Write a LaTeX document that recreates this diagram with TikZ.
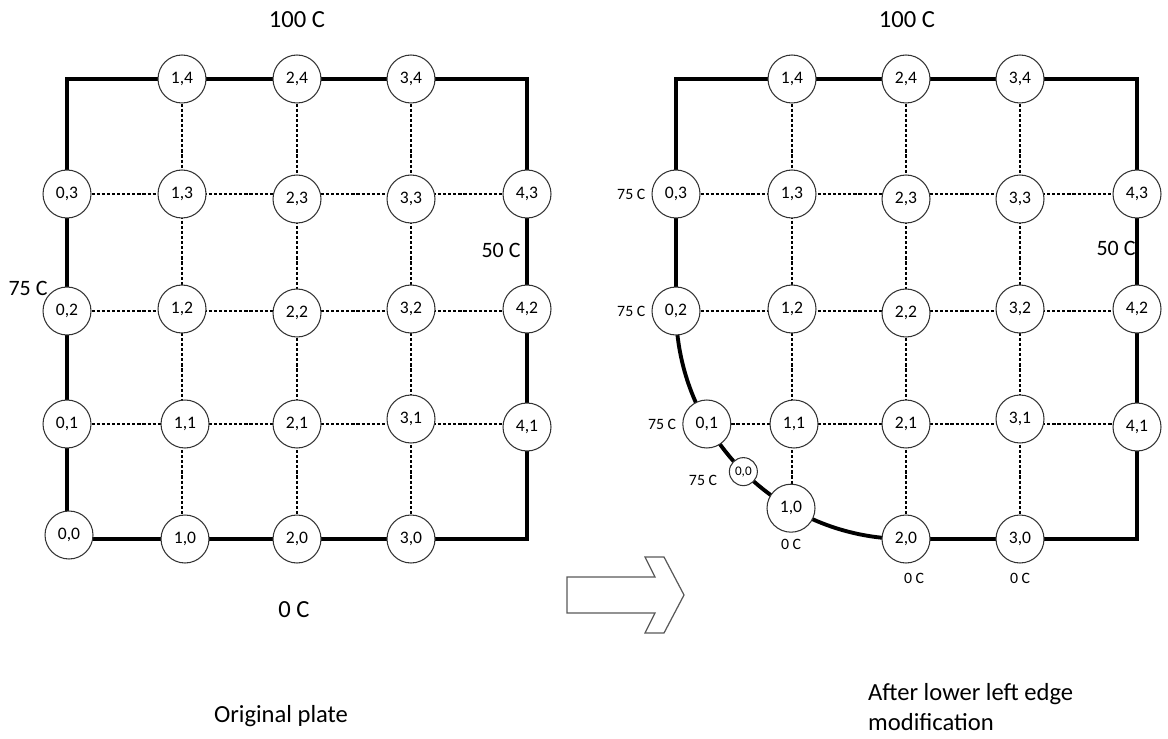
\documentclass[tikz,border=0pt]{standalone}
\usepackage{fontspec}
\setmainfont{Carlito}
\usepackage{tikz}
\usetikzlibrary{positioning,backgrounds}

\begin{document}
\begin{tikzpicture}[x=0.02cm, y=-0.02cm,
  pt/.style={circle, draw=black!80, line width=0.6pt, fill=white, minimum size=0.96cm, inner sep=0pt, font=\fontsize{10}{12}\selectfont},
  ptsmall/.style={pt, minimum size=0.56cm, font=\fontsize{7.5}{9}\selectfont},
  edge/.style={line width=2.2pt},
  link/.style={line width=1pt, dash pattern=on 1.8pt off 1.1pt},
  big/.style={font=\fontsize{14}{17}\selectfont},
  mid/.style={font=\fontsize{12.5}{15}\selectfont},
  small/.style={font=\fontsize{9}{11}\selectfont}]
  \useasboundingbox (0,0) rectangle (1168,739);

  % original plate
  \foreach \i/\j/\x/\y in {1/4/182/79, 2/4/297/79, 3/4/411/79,
      0/3/67/194, 1/3/182/194, 2/3/297/199, 3/3/411/199, 4/3/527/194,
      0/2/67/311, 1/2/182/309, 2/2/297/313, 3/2/411/309, 4/2/527/309,
      0/1/67/424, 1/1/185/424, 2/1/297/424, 3/1/411/419, 4/1/527/427,
      0/0/69/535, 1/0/185/539, 2/0/297/539, 3/0/411/539}
    \node[pt] (l\i\j) at (\x,\y) {\i,\j};
  \coordinate (lc1) at (67,79);
  \coordinate (lc2) at (527,79);
  \coordinate (lc3) at (527,539);
  \coordinate (lc4) at (67,539);

  % modified plate
  \coordinate (rc) at (906,309);
  \foreach \i/\j/\x/\y in {1/4/792/79, 2/4/906/79, 3/4/1020/79,
      0/3/676/194, 1/3/792/194, 2/3/906/199, 3/3/1020/199, 4/3/1137/194,
      0/2/676/311, 1/2/792/309, 2/2/906/313, 3/2/1020/309, 4/2/1137/309,
      1/1/794/424, 2/1/906/424, 3/1/1020/419, 4/1/1137/427,
      2/0/906/539, 3/0/1020/539}
    \node[pt] (r\i\j) at (\x,\y) {\i,\j};
  \node[pt] (r01) at ([shift={(150:230)}]rc) {0,1};
  \node[ptsmall] (r00) at ([shift={(135:230)}]rc) {0,0};
  \node[pt] (r10) at ([shift={(120:230)}]rc) {1,0};
  \coordinate (rc1) at (676,79);
  \coordinate (rc2) at (1137,79);
  \coordinate (rc3) at (1137,539);

  \begin{scope}[on background layer]
    \draw[edge] (lc4) -- (lc1) -- (lc2) -- (lc3) -- cycle;
    \draw[edge] ([shift={(180:230)}]rc) -- (rc1) -- (rc2) -- (rc3) -- ([shift={(90:230)}]rc)
      arc[start angle=90, end angle=180, radius=230];
    \foreach \s in {l,r} {
      \foreach \j in {1,2,3}
        \draw[link] (\s0\j) -- (\s0\j -| \s4\j);
      \foreach \i in {1,2,3}
        \draw[link] (\s\i4) -- (\s\i4 |- \s\i0);
    }
  \end{scope}

  \node[big] (lt) at (297,20) {100 C};
  \node[mid] (ll) at (28,288) {75 C};
  \node[mid] (lr) at (501,250) {50 C};
  \node[big] (lb) at (294,610) {0 C};
  \node[big] (lcap) at (281,716) {Original plate};

  \node[big] (rt) at (907,20) {100 C};
  \node[small, left=0pt of r03] (rl3) {75 C};
  \node[small, left=0pt of r02] (rl2) {75 C};
  \node[small, left=0pt of r01] (rl1) {75 C};
  \node[small] (rl0) at (703,480) {75 C};
  \node[small, below=0pt of r10] (rb1) {0 C};
  \node[small] (rb2) at (914,578) {0 C};
  \node[small] (rb3) at (1020,578) {0 C};
  \node[mid] (rr) at (1116,248) {50 C};
  \node[big, align=left, anchor=north west] (rcap) at (862,677) {After lower left edge\\modification};

  \draw[black!65, line width=0.7pt, fill=white] (567,577) -- (655,577) -- (645,557) -- (664,557)
    -- (684,595) -- (664,633) -- (645,633) -- (655,613) -- (567,613) -- cycle;
\end{tikzpicture}
\end{document}
